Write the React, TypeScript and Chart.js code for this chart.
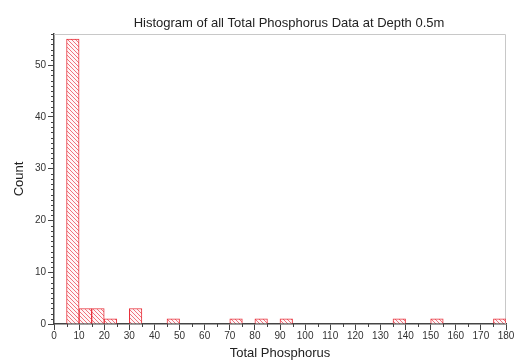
import React, { useEffect, useRef } from 'react';
import { Chart, registerables } from 'chart.js';

Chart.register(...registerables);

const TITLE = 'Histogram of all Total Phosphorus Data at Depth 0.5m';
const X_TITLE = 'Total Phosphorus';
const Y_TITLE = 'Count';

const BIN_WIDTH = 5;
const binStarts = [5, 10, 15, 20, 30, 45, 70, 80, 90, 135, 150, 175];
const counts = [55, 3, 3, 1, 3, 1, 1, 1, 1, 1, 1, 1];

const X_MIN = 0;
const X_MAX = 180;
const X_STEP = 10;
const X_MINOR = 5;
const Y_MIN = 0;
const Y_MAX = 56;
const Y_STEP = 10;
const Y_MINOR = 1;

const FONT = '"Liberation Sans", Arial, sans-serif';
const TEXT = '#333333';
const AXIS = '#444444';

function makeHatch(): CanvasPattern | string {
  const s = 4;
  const c = document.createElement('canvas');
  c.width = s;
  c.height = s;
  const g = c.getContext('2d');
  if (!g) return '#fde';
  g.fillStyle = '#fff6f7';
  g.fillRect(0, 0, s, s);
  g.strokeStyle = 'rgba(232,60,72,0.7)';
  g.lineWidth = 1;
  g.beginPath();
  g.moveTo(0, 0);
  g.lineTo(s, s);
  g.moveTo(-1, s - 1);
  g.lineTo(1, s + 1);
  g.moveTo(s - 1, -1);
  g.lineTo(s + 1, 1);
  g.stroke();
  return g.createPattern(c, 'repeat') || '#fde';
}

const framePlugin = {
  id: 'frameMinor',
  beforeDatasetsDraw(chart: any) {
    const { ctx, chartArea } = chart;
    ctx.save();
    ctx.strokeStyle = '#c8c8c8';
    ctx.lineWidth = 1;
    ctx.beginPath();
    ctx.moveTo(chartArea.left, chartArea.top + 0.5);
    ctx.lineTo(chartArea.right - 0.5, chartArea.top + 0.5);
    ctx.lineTo(chartArea.right - 0.5, chartArea.bottom);
    ctx.stroke();
    ctx.restore();
  },
  afterDraw(chart: any) {
    const { ctx, chartArea, scales } = chart;
    const xs = scales.x;
    const ys = scales.y;
    ctx.save();
    ctx.strokeStyle = AXIS;
    ctx.lineWidth = 1;
    ctx.beginPath();
    for (let v = Y_MIN; v <= Y_MAX; v += Y_MINOR) {
      if (v % Y_STEP === 0) continue;
      const y = Math.round(ys.getPixelForValue(v)) + 0.5;
      ctx.moveTo(chartArea.left - 3, y);
      ctx.lineTo(chartArea.left, y);
    }
    for (let v = X_MIN; v <= X_MAX; v += X_MINOR) {
      if (v % X_STEP === 0) continue;
      const x = Math.round(xs.getPixelForValue(v)) + 0.5;
      ctx.moveTo(x, chartArea.bottom);
      ctx.lineTo(x, chartArea.bottom + 3);
    }
    ctx.stroke();
    // chart title, slightly right of the plot centre as in the original
    ctx.fillStyle = '#222';
    ctx.font = `13px ${FONT}`;
    ctx.textAlign = 'center';
    ctx.textBaseline = 'middle';
    ctx.fillText(TITLE, (chartArea.left + chartArea.right) / 2 + 9, 23);
    ctx.restore();
  },
};

export default function App() {
  const ref = useRef<HTMLCanvasElement>(null);

  useEffect(() => {
    document.body.style.margin = '0';
    if (!ref.current) return;
    const hatch = makeHatch();
    const data = binStarts.map((s, i) => ({ x: s + BIN_WIDTH / 2, y: counts[i] }));
    const chart = new Chart(ref.current, {
      type: 'bar',
      data: {
        datasets: [
          {
            data,
            backgroundColor: hatch as any,
            borderColor: '#e8323c',
            borderWidth: 1,
            barPercentage: 1,
            categoryPercentage: 1,
          },
        ],
      },
      options: {
        animation: false,
        responsive: false,
        maintainAspectRatio: false,
        layout: { padding: { left: 6, right: 11, top: 34, bottom: 0 } },
        plugins: {
          legend: { display: false },
          tooltip: { enabled: false },
          title: { display: false },
        },
        scales: {
          x: {
            type: 'linear',
            min: X_MIN,
            max: X_MAX,
            offset: false,
            grid: { display: true, offset: false, drawOnChartArea: false, tickLength: 6, tickColor: AXIS, tickWidth: 1 },
            border: { display: true, color: AXIS, width: 1.5 },
            ticks: {
              stepSize: X_STEP,
              autoSkip: false,
              maxRotation: 0,
              padding: 0,
              color: TEXT,
              font: { family: FONT, size: 10 },
            },
            title: {
              display: true,
              text: X_TITLE,
              color: '#222',
              font: { family: FONT, size: 13 },
              padding: { top: 0, bottom: 0 },
            },
            afterFit: (s: any) => {
              s.height = 37;
            },
          },
          y: {
            type: 'linear',
            min: Y_MIN,
            max: Y_MAX,
            grid: { display: true, drawOnChartArea: false, tickLength: 6, tickColor: AXIS, tickWidth: 1 },
            border: { display: true, color: AXIS, width: 1.5 },
            ticks: {
              stepSize: Y_STEP,
              includeBounds: false,
              padding: 2,
              color: TEXT,
              font: { family: FONT, size: 10 },
            },
            title: {
              display: true,
              text: Y_TITLE,
              color: '#222',
              font: { family: FONT, size: 13 },
              padding: { top: 6, bottom: 0 },
            },
            afterFit: (s: any) => {
              s.width = 48;
            },
          },
        },
      },
      plugins: [framePlugin],
    });
    return () => chart.destroy();
  }, []);

  return (
    <div style={{ width: 517, height: 361, background: '#fff' }}>
      <canvas ref={ref} width={517} height={361} />
    </div>
  );
}
